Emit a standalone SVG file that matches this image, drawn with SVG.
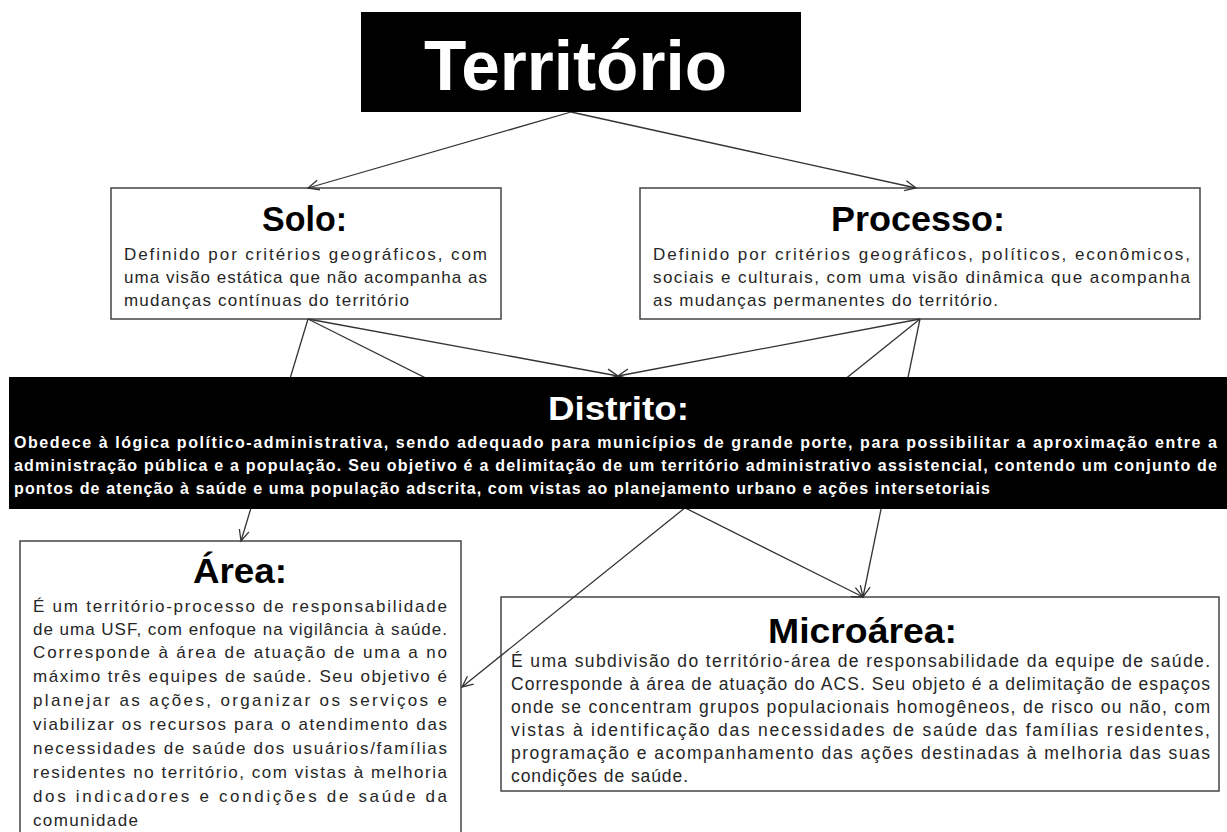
<svg xmlns="http://www.w3.org/2000/svg" width="1227" height="832" viewBox="0 0 1227 832">
<defs>
<style>
.box{fill:#fff;stroke:#444;stroke-width:1.5}
.dark{fill:#000}
.ttl{font-family:"Liberation Sans",Arial,sans-serif;font-weight:bold;fill:#000}
.bd{font-family:"Liberation Sans",Arial,sans-serif;font-size:17px;fill:#262626}
.mb{font-family:"Liberation Sans",Arial,sans-serif;font-size:17.5px;fill:#262626}
.wb{font-family:"Liberation Sans",Arial,sans-serif;font-size:16px;font-weight:bold;fill:#fff}
.conn line{stroke:#333;stroke-width:1.3;fill:none;marker-end:url(#ah)}
</style>
<marker id="ah" viewBox="-12 -7 14 14" refX="0" refY="0" markerWidth="14" markerHeight="14" markerUnits="userSpaceOnUse" orient="auto">
<path d="M-11,-5 L0,0 L-11,5" fill="none" stroke="#333" stroke-width="1.3"/>
</marker>
</defs>
<rect width="1227" height="832" fill="#fff"/>

<g id="solo">
<rect class="box" x="111" y="188" width="390" height="131"/>
<text class="ttl" x="262" y="231" font-size="35" textLength="85" lengthAdjust="spacingAndGlyphs">Solo:</text>
<text class="bd" x="124" y="260" textLength="363" lengthAdjust="spacing">Definido por critérios geográficos, com</text>
<text class="bd" x="124" y="283" textLength="363" lengthAdjust="spacing">uma visão estática que não acompanha as</text>
<text class="bd" x="124" y="306" textLength="285" lengthAdjust="spacing">mudanças contínuas do território</text>
</g>

<g id="processo">
<rect class="box" x="640" y="188" width="560" height="131"/>
<text class="ttl" x="831" y="231" font-size="35" textLength="174" lengthAdjust="spacingAndGlyphs">Processo:</text>
<text class="bd" x="653" y="260" textLength="537" lengthAdjust="spacing">Definido por critérios geográficos, políticos, econômicos,</text>
<text class="bd" x="653" y="283" textLength="537" lengthAdjust="spacing">sociais e culturais, com uma visão dinâmica que acompanha</text>
<text class="bd" x="653" y="306" textLength="345" lengthAdjust="spacing">as mudanças permanentes do território.</text>
</g>

<g id="area">
<rect class="box" x="20" y="541" width="441" height="300"/>
<text class="ttl" x="193" y="583" font-size="35" textLength="94" lengthAdjust="spacingAndGlyphs">Área:</text>
<text class="bd" x="33" y="612" textLength="414" lengthAdjust="spacing">É um território-processo de responsabilidade</text>
<text class="bd" x="33" y="635" textLength="414" lengthAdjust="spacing">de uma USF, com enfoque na vigilância à saúde.</text>
<text class="bd" x="33" y="658" textLength="414" lengthAdjust="spacing">Corresponde à área de atuação de uma a no</text>
<text class="bd" x="33" y="682" textLength="414" lengthAdjust="spacing">máximo três equipes de saúde. Seu objetivo é</text>
<text class="bd" x="33" y="706" textLength="414" lengthAdjust="spacing">planejar as ações, organizar os serviços e</text>
<text class="bd" x="33" y="730" textLength="414" lengthAdjust="spacing">viabilizar os recursos para o atendimento das</text>
<text class="bd" x="33" y="754" textLength="414" lengthAdjust="spacing">necessidades de saúde dos usuários/famílias</text>
<text class="bd" x="33" y="778" textLength="414" lengthAdjust="spacing">residentes no território, com vistas à melhoria</text>
<text class="bd" x="33" y="802" textLength="414" lengthAdjust="spacing">dos indicadores e condições de saúde da</text>
<text class="bd" x="33" y="826" textLength="105" lengthAdjust="spacing">comunidade</text>
</g>

<g id="microarea">
<rect class="box" x="501" y="597" width="718" height="194"/>
<text class="ttl" x="768" y="643" font-size="35" textLength="189" lengthAdjust="spacingAndGlyphs">Microárea:</text>
<text class="mb" x="511" y="667" textLength="699" lengthAdjust="spacing">É uma subdivisão do território-área de responsabilidade da equipe de saúde.</text>
<text class="mb" x="511" y="690" textLength="699" lengthAdjust="spacing">Corresponde à área de atuação do ACS. Seu objeto é a delimitação de espaços</text>
<text class="mb" x="511" y="713" textLength="699" lengthAdjust="spacing">onde se concentram grupos populacionais homogêneos, de risco ou não, com</text>
<text class="mb" x="511" y="736" textLength="699" lengthAdjust="spacing">vistas à identificação das necessidades de saúde das famílias residentes,</text>
<text class="mb" x="511" y="759" textLength="699" lengthAdjust="spacing">programação e acompanhamento das ações destinadas à melhoria das suas</text>
<text class="mb" x="511" y="782" textLength="177" lengthAdjust="spacing">condições de saúde.</text>
</g>

<g id="connectors" class="conn">
<line x1="571" y1="112" x2="308" y2="188"/>
<line x1="571" y1="112" x2="916" y2="188"/>
<line x1="308" y1="319" x2="618" y2="376"/>
<line x1="308" y1="319" x2="241" y2="541"/>
<line x1="308" y1="319" x2="863" y2="597"/>
<line x1="920" y1="319" x2="618" y2="376"/>
<line x1="920" y1="319" x2="462" y2="687"/>
<line x1="920" y1="319" x2="863" y2="597"/>
</g>

<g id="distrito">
<rect class="dark" x="9" y="377" width="1222" height="132"/>
<text class="ttl" x="548" y="420" font-size="34" style="fill:#fff" textLength="141" lengthAdjust="spacingAndGlyphs">Distrito:</text>
<text class="wb" x="14" y="448" textLength="1203" lengthAdjust="spacing">Obedece à lógica político-administrativa, sendo adequado para municípios de grande porte, para possibilitar a aproximação entre a</text>
<text class="wb" x="14" y="471" textLength="1203" lengthAdjust="spacing">administração pública e a população. Seu objetivo é a delimitação de um território administrativo assistencial, contendo um conjunto de</text>
<text class="wb" x="14" y="494" textLength="976" lengthAdjust="spacing">pontos de atenção à saúde e uma população adscrita, com vistas ao planejamento urbano e ações intersetoriais</text>
</g>

<g id="territorio">
<rect class="dark" x="361" y="12" width="440" height="100"/>
<text class="ttl" x="424" y="90" font-size="71" style="fill:#fff" textLength="303" lengthAdjust="spacingAndGlyphs">Território</text>
</g>
</svg>
